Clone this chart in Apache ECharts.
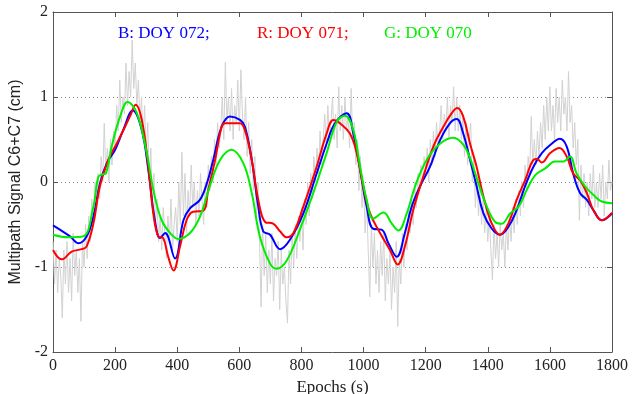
<!DOCTYPE html>
<html>
<head>
<meta charset="utf-8">
<script src="https://cdn.jsdelivr.net/npm/echarts@6/dist/echarts.min.js"></script>
<style>html,body{margin:0;padding:0;background:#fff}#c{width:639px;height:394px}</style>
</head>
<body>
<div id="c"></div>
<script>
// ---- Data ----
var xTicks = [0, 200, 400, 600, 800, 1000, 1200, 1400, 1600, 1800];
var yTicks = [-2, -1, 0, 1, 2];

// raw multipath signal, one value every 5 s from 0 to 1800
var rawStep = 5;
var rawValues = [
 -0.7,-1.2,-0.8,-1.3,-0.9,-1.1,-1.6,-0.8,-1.2,-0.7,
 -1.3,-0.9,-1.4,-0.6,-1.1,-0.8,-1.3,-0.9,-1.64,-0.7,
 -1.0,-0.5,-0.9,-0.4,-0.7,-0.2,-0.5,0.0,-0.3,0.1,
 -0.2,0.3,0.0,0.69,0.1,0.4,0.0,0.5,0.2,0.6,
 0.4,0.9,0.6,1.2,0.7,1.0,0.8,1.4,0.9,1.3,
 1.0,1.67,1.1,1.4,0.9,1.2,0.7,1.0,0.5,0.9,
 0.3,0.7,0.0,0.4,-0.3,0.1,-0.5,-0.2,-0.7,-0.4,
 -0.8,-0.3,-0.6,-0.9,-0.4,-0.7,-0.2,-0.8,-0.5,-0.3,
 -0.7,0.0,-0.5,0.35,-0.4,0.1,-0.6,-0.1,-0.4,0.2,
 -0.3,0.0,-0.5,-0.1,-0.4,0.1,-0.2,-0.5,0.0,-0.3,
 0.2,-0.1,0.3,0.0,0.5,0.2,0.7,0.4,0.6,1.0,
 0.5,1.41,0.7,1.0,0.6,1.1,0.5,0.9,0.7,1.2,
 0.6,1.32,0.8,0.5,1.0,0.3,0.7,0.1,0.5,-0.1,
 0.3,-0.4,0.0,-0.7,-1.47,-0.5,-1.1,-0.6,-1.3,-0.8,
 -1.2,-0.6,-1.4,-0.9,-1.1,-0.7,-1.5,-0.8,-1.2,-1.0,
 -1.4,-1.66,-0.8,-1.2,-0.6,-1.0,-0.5,-0.9,-0.4,-0.7,
 -0.3,-0.8,-0.2,-0.5,0.0,-0.4,0.1,-0.2,0.3,0.0,
 0.4,0.1,0.6,0.2,0.5,0.8,0.4,0.9,0.5,0.7,
 1.0,0.5,0.8,0.4,1.12,0.6,0.9,0.5,1.0,0.6,
 0.8,0.4,1.1,0.5,0.7,0.2,0.5,-0.1,0.3,-0.3,
 0.0,-0.6,-0.2,-0.8,-1.35,-0.5,-1.0,-0.6,-1.2,-0.8,
 -1.3,-0.7,-1.1,-0.6,-1.4,-0.9,-1.2,-0.8,-1.5,-1.0,
 -1.3,-0.7,-1.7,-0.9,-1.2,-0.6,-1.0,-0.5,-0.8,-0.3,
 -0.6,-0.2,-0.5,0.0,-0.3,0.1,-0.1,0.2,0.0,0.3,
 0.1,0.4,0.0,0.5,0.2,0.6,0.3,0.7,0.4,0.6,
 0.9,0.5,0.8,0.6,1.0,0.5,0.9,0.7,1.12,0.6,
 1.0,0.6,0.9,0.5,0.8,0.3,0.7,0.2,0.5,0.69,
 0.0,0.3,-0.3,0.1,-0.4,-0.1,-0.5,-0.2,-0.6,-0.3,
 -0.7,-0.4,-0.8,-1.15,-0.5,-0.9,-0.6,-1.0,-0.5,-0.8,
 -0.6,-1.0,-0.5,-0.8,-0.4,-0.7,-0.3,-0.6,-0.2,-0.5,
 -0.1,-0.4,0.0,-0.3,0.2,-0.1,0.3,0.1,0.77,0.2,
 0.5,0.2,0.6,0.3,0.7,0.4,0.9,0.5,1.0,0.6,
 1.12,0.6,0.9,0.5,1.1,0.7,1.0,0.6,1.2,0.8,
 1.0,0.6,1.3,0.7,0.9,0.4,0.7,0.2,0.5,-0.45,
 0.2,-0.2,0.1,-0.3,0.0,-0.4,0.1,-0.2,0.2,-0.3,
 0.0,-0.3,0.1,-0.2,0.2,-0.4,0.0,-0.2,0.26,-0.1,
 0.0
];

// B: DOY 072 (blue)
var blueEpochs = [0,55,82,108,130,151,173,200,226,257,286,307,328,345,361,393,420,441,473,495,516,543,570,602,618,640,661,677,699,731,763,806,849,881,908,946,967,989,1010,1031,1058,1080,1107,1133,1155,1182,1214,1246,1278,1300,1321,1343,1364,1386,1413,1439,1466,1493,1520,1547,1574,1606,1632,1654,1675,1697,1719,1740,1767,1800];
var blueValues = [-0.51,-0.64,-0.72,-0.64,-0.41,-0.02,0.22,0.38,0.61,0.84,0.61,0.14,-0.45,-0.66,-0.60,-0.90,-0.45,-0.31,-0.21,-0.02,0.26,0.65,0.77,0.73,0.65,0.26,-0.29,-0.58,-0.62,-0.79,-0.68,-0.37,0.10,0.45,0.69,0.81,0.57,0.14,-0.29,-0.55,-0.56,-0.72,-0.88,-0.60,-0.29,-0.05,0.18,0.49,0.69,0.74,0.57,0.26,-0.05,-0.37,-0.55,-0.62,-0.53,-0.33,-0.05,0.18,0.34,0.45,0.51,0.42,0.10,-0.13,-0.21,-0.33,-0.45,-0.37];

// R: DOY 071 (red)
var redEpochs = [0,28,60,92,108,130,151,178,205,232,250,266,286,307,323,339,355,371,388,409,430,451,483,500,522,543,554,602,618,640,661,683,709,731,753,774,806,849,881,903,924,956,978,999,1021,1053,1085,1110,1133,1160,1192,1225,1257,1284,1302,1321,1343,1364,1386,1413,1439,1466,1493,1520,1547,1558,1574,1601,1631,1654,1675,1697,1719,1740,1767,1800];
var redValues = [-0.80,-0.91,-0.82,-0.79,-0.76,-0.49,-0.05,0.26,0.45,0.65,0.79,0.91,0.73,0.18,-0.37,-0.64,-0.66,-0.88,-1.04,-0.76,-0.45,-0.35,-0.34,-0.09,0.26,0.65,0.69,0.69,0.61,0.26,-0.21,-0.47,-0.49,-0.58,-0.65,-0.60,-0.29,0.18,0.57,0.73,0.69,0.57,0.34,-0.05,-0.37,-0.60,-0.80,-0.97,-0.76,-0.33,0.06,0.42,0.65,0.81,0.87,0.77,0.45,0.18,-0.17,-0.49,-0.62,-0.49,-0.21,0.02,0.26,0.27,0.23,0.34,0.40,0.30,0.10,0.02,-0.13,-0.33,-0.45,-0.36];

// G: DOY 070 (green)
var greenEpochs = [0,50,97,130,146,160,170,189,216,240,270,302,323,350,382,403,441,473,505,538,575,613,640,666,699,720,753,795,838,881,914,940,967,989,1010,1031,1064,1091,1112,1139,1166,1203,1246,1289,1321,1343,1370,1397,1424,1445,1472,1499,1526,1553,1585,1617,1644,1665,1686,1713,1745,1767,1800];
var greenValues = [-0.62,-0.65,-0.64,-0.29,0.06,0.09,0.10,0.42,0.77,0.94,0.81,0.34,-0.09,-0.45,-0.62,-0.67,-0.60,-0.41,-0.05,0.26,0.38,0.22,-0.13,-0.64,-0.96,-1.02,-0.92,-0.56,-0.13,0.34,0.71,0.78,0.61,0.18,-0.21,-0.43,-0.36,-0.49,-0.57,-0.37,-0.05,0.26,0.45,0.52,0.44,0.28,-0.02,-0.29,-0.47,-0.49,-0.37,-0.29,-0.09,0.08,0.16,0.24,0.24,0.30,0.10,-0.05,-0.17,-0.23,-0.25];

function pairs(xs, ys) { return xs.map(function (x, i) { return [x, ys[i]]; }); }
var rawData = rawValues.map(function (v, i) { return [i * rawStep, v]; });

var serif = '"Liberation Serif", "Times New Roman", serif';
var frame = '#555';

var chart = echarts.init(document.getElementById('c'), null, { renderer: 'canvas' });
chart.setOption({
  animation: false,
  backgroundColor: '#fff',
  grid: { left: 53, right: 27, top: 12, bottom: 42, containLabel: false, outerBoundsMode: 'none' },
  xAxis: [{
    type: 'value', min: 0, max: 1800, interval: 200, position: 'bottom',
    name: 'Epochs (s)', nameLocation: 'middle', nameGap: 18,
    nameTextStyle: { fontFamily: serif, fontSize: 17, color: '#222' },
    axisLine: { show: true, onZero: false, lineStyle: { color: frame, width: 1 } },
    axisTick: { show: true, inside: true, length: 5, lineStyle: { color: frame } },
    axisLabel: { fontFamily: serif, fontSize: 16, color: '#222', margin: 6,
      formatter: function (v) { return xTicks.indexOf(v) >= 0 ? String(v) : ''; } },
    splitLine: { show: false }
  }, {
    type: 'value', min: 0, max: 1800, interval: 200, position: 'top',
    axisLine: { show: true, onZero: false, lineStyle: { color: frame, width: 1 } },
    axisTick: { show: true, inside: true, length: 5, lineStyle: { color: frame } },
    axisLabel: { show: false }, splitLine: { show: false }
  }],
  yAxis: [{
    type: 'value', min: -2, max: 2, interval: 1, position: 'left',
    name: 'Multipath Signal C6+C7 (cm)', nameLocation: 'middle', nameGap: 26, nameRotate: 90,
    nameTextStyle: { fontFamily: '"Liberation Sans Narrow", "Liberation Sans", Arial, sans-serif', fontSize: 16, color: '#222' },
    axisLine: { show: true, onZero: false, lineStyle: { color: frame, width: 1 } },
    axisTick: { show: true, inside: true, length: 5, lineStyle: { color: frame } },
    axisLabel: { fontFamily: serif, fontSize: 16, color: '#222', margin: 5,
      formatter: function (v) { return yTicks.indexOf(v) >= 0 ? String(v) : ''; } },
    splitLine: { show: true, lineStyle: { color: '#888', type: [1, 3], width: 1 } }
  }, {
    type: 'value', min: -2, max: 2, interval: 1, position: 'right',
    axisLine: { show: true, onZero: false, lineStyle: { color: frame, width: 1 } },
    axisTick: { show: true, inside: true, length: 5, lineStyle: { color: frame } },
    axisLabel: { show: false }, splitLine: { show: false }
  }],
  graphic: [
    { type: 'text', left: 118, top: 25, style: { text: 'B: DOY 072;', fill: '#0000ff', font: '17px ' + serif } },
    { type: 'text', left: 257, top: 25, style: { text: 'R: DOY 071;', fill: '#ff0000', font: '17px ' + serif } },
    { type: 'text', left: 384, top: 25, style: { text: 'G: DOY 070', fill: '#00f000', font: '17px ' + serif } }
  ],
  series: [
    { type: 'line', name: 'raw', data: rawData, showSymbol: false, xAxisIndex: 0, yAxisIndex: 0,
      lineStyle: { color: '#d2d2d2', width: 1 }, z: 1 },
    { type: 'line', name: 'B: DOY 072', data: pairs(blueEpochs, blueValues), showSymbol: false, smooth: 0.4,
      lineStyle: { color: '#0000ff', width: 2 }, z: 3 },
    { type: 'line', name: 'R: DOY 071', data: pairs(redEpochs, redValues), showSymbol: false, smooth: 0.4,
      lineStyle: { color: '#ff0000', width: 2 }, z: 4 },
    { type: 'line', name: 'G: DOY 070', data: pairs(greenEpochs, greenValues), showSymbol: false, smooth: 0.4,
      lineStyle: { color: '#00ee00', width: 2 }, z: 5 }
  ]
});
</script>
</body>
</html>
